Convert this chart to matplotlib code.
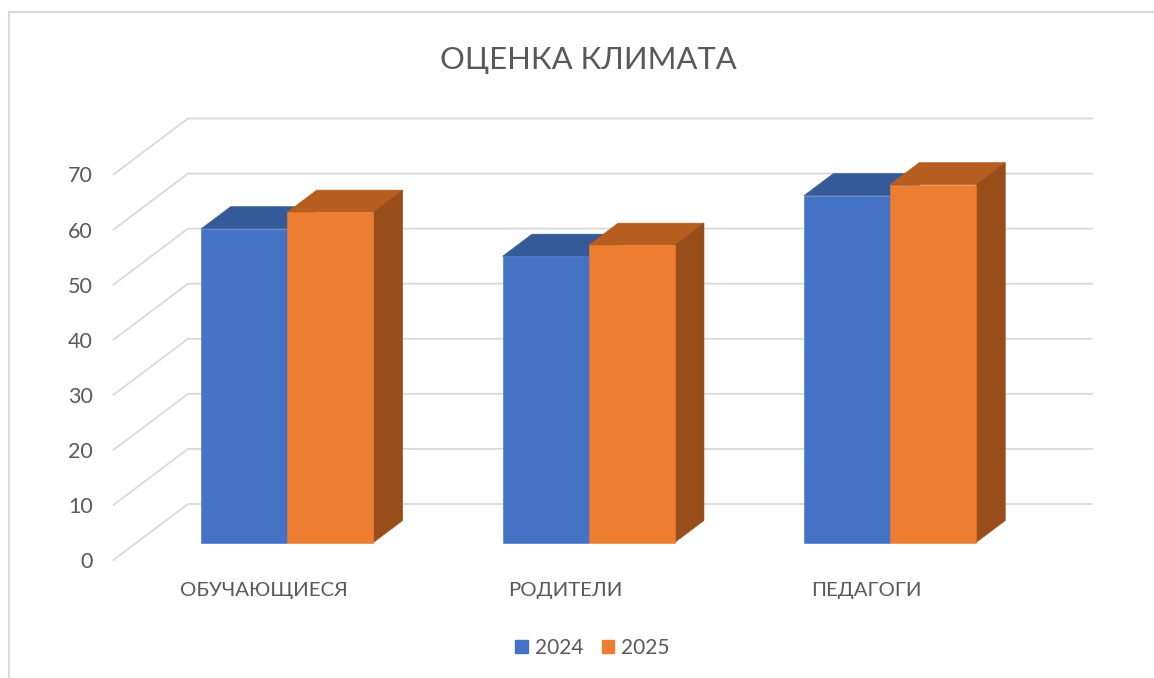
import matplotlib
matplotlib.use("Agg")
import matplotlib.pyplot as plt
from matplotlib.lines import Line2D
from matplotlib.patches import Patch, Polygon

plt.rcParams['font.family'] = ['Lato', 'DejaVu Sans']

# values
categories = ["ОБУЧАЮЩИЕСЯ", "РОДИТЕЛИ", "ПЕДАГОГИ"]
values_2024 = [57, 52, 63]
values_2025 = [60, 54, 65]
y_ticks = [0, 10, 20, 30, 40, 50, 60, 70]

text_color = "#595959"
grid_color = "#d9d9d9"
# (front, top, side) for each series
blue = ("#4472C4", "#345A99", "#2F5290")
orange = ("#ED7D31", "#B55E20", "#984D1A")

# fake 3d: a point at depth z (0 front, 1 back wall) moves by z*depth_x, z*depth_y
depth_x = 0.247
depth_y = 10.17
bar_z0 = 0.31
bar_z1 = 0.705
bar_w = 0.2854

fig = plt.figure(figsize=(11.54, 6.78), dpi=100)
ax = fig.add_axes([113.5 / 1154, 118 / 678, 904 / 1154, 385.5 / 678])
ax.set_xlim(0, len(categories))
ax.set_ylim(0, 70)


def shift(x, y, z):
    return (x + z * depth_x, y + z * depth_y)


# walls: back grid lines and the diagonals on the left side
for v in y_ticks:
    x0, y0 = shift(0, v, 0)
    x1, y1 = shift(0, v, 1)
    x2, y2 = shift(len(categories), v, 1)
    ax.plot([x0, x1, x2], [y0, y1, y2], color=grid_color, lw=1.3, clip_on=False, zorder=1,
            solid_joinstyle="miter")


def draw_bar(x, value, colors, zorder):
    front, top, side = colors
    xl, yb = shift(x, 0, bar_z0)
    xr, yt = shift(x + bar_w, value, bar_z0)
    # thin edge in the face colour so no white seam shows between the faces
    ax.add_patch(Polygon([shift(x, value, bar_z0), shift(x + bar_w, value, bar_z0),
                          shift(x + bar_w, value, bar_z1), shift(x, value, bar_z1)],
                         facecolor=top, edgecolor=top, lw=0.4, clip_on=False, zorder=zorder))
    ax.add_patch(Polygon([shift(x + bar_w, 0, bar_z0), shift(x + bar_w, value, bar_z0),
                          shift(x + bar_w, value, bar_z1), shift(x + bar_w, 0, bar_z1)],
                         facecolor=side, edgecolor=side, lw=0.4, clip_on=False, zorder=zorder + 0.1))
    ax.add_patch(Polygon([(xl, yb), (xr, yb), (xr, yt), (xl, yt)], facecolor=front, edgecolor=front, lw=0.4,
                         clip_on=False, zorder=zorder + 0.2))


for i in range(len(categories)):
    center = i + 0.5
    draw_bar(center - bar_w, values_2024[i], blue, 2)
    draw_bar(center, values_2025[i], orange, 3)

for s in ax.spines.values():
    s.set_visible(False)
ax.patch.set_alpha(0)
ax.set_yticks(y_ticks)
ax.set_yticklabels([str(v) for v in y_ticks], fontsize=15.5, color=text_color)
ax.set_xticks([i + 0.5 for i in range(len(categories))])
ax.set_xticklabels(categories, fontsize=14.7, color=text_color)
ax.tick_params(axis="y", length=0, pad=15)
ax.tick_params(axis="x", length=0, pad=16)

fig.text(588 / 1154, 1 - 60 / 678, "ОЦЕНКА КЛИМАТА", fontsize=22.3, color=text_color,
         ha="center", va="center")

handles = [Patch(color=blue[0], label="2024"), Patch(color=orange[0], label="2025")]
fig.legend(handles=handles, loc="center", bbox_to_anchor=(592.5 / 1154, 1 - 648 / 678), ncol=2,
           frameon=False, fontsize=15, labelcolor=text_color, handlelength=0.62, handleheight=0.62,
           handletextpad=0.33, columnspacing=0.87)

# chart border, cut off on the right and at the bottom
fig.add_artist(Line2D([9 / 1154, 9 / 1154, 1], [0, 1 - 12 / 678, 1 - 12 / 678], color=grid_color, lw=1.5,
                      solid_joinstyle="miter"))

fig.savefig("out.png", dpi=100)
